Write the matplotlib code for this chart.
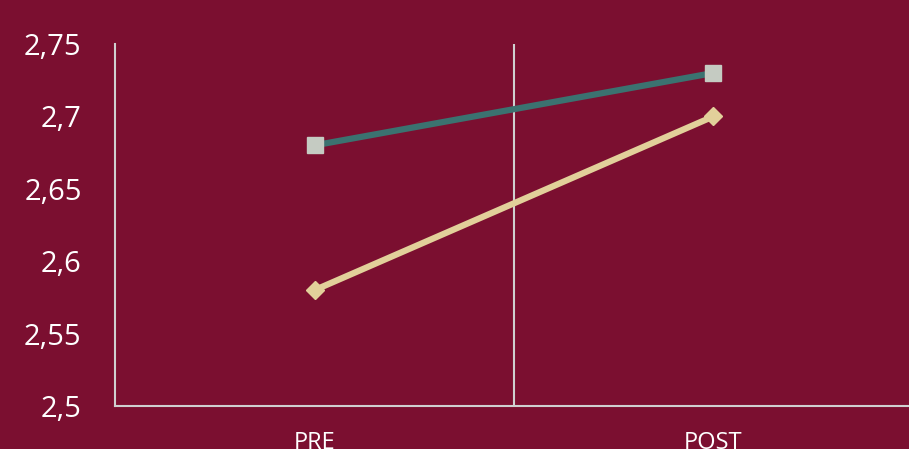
import matplotlib
matplotlib.use("Agg")
import matplotlib.pyplot as plt

categories = ["PRE", "POST"]
series_teal = [2.68, 2.73]
series_beige = [2.58, 2.70]
y_ticks = [2.5, 2.55, 2.6, 2.65, 2.7, 2.75]
y_labels = ["2,5", "2,55", "2,6", "2,65", "2,7", "2,75"]

bg = "#7B0F30"
plt.rcParams['font.family'] = ['Open Sans', 'DejaVu Sans']

fig = plt.figure(figsize=(9.09, 4.49), dpi=100, facecolor=bg)
ax = fig.add_axes([115/909, (449-406)/449, (913-115)/909, (406-44)/449])
ax.set_facecolor(bg)

x = [0.5, 1.5]
ax.plot(x, series_beige, color="#E2D09A", lw=4.5, marker="D", markersize=9,
        markerfacecolor="#E2D09A", markeredgecolor="#E2D09A", zorder=3)
ax.plot(x, series_teal, color="#3B7270", lw=4.5, marker="s", markersize=12,
        markerfacecolor="#C5CBC2", markeredgecolor="#C5CBC2", zorder=4)

ax.axvline(1.0, color="#D0D0D0", lw=1.5, zorder=1)
ax.set_xlim(0, 2)
ax.set_ylim(2.5, 2.75)
ax.set_yticks(y_ticks)
ax.set_yticklabels(y_labels)
ax.set_xticks(x)
ax.set_xticklabels(categories)
for s in ["top", "right"]:
    ax.spines[s].set_visible(False)
for s in ["left", "bottom"]:
    ax.spines[s].set_color("#D0D0D0")
    ax.spines[s].set_linewidth(1.5)
ax.tick_params(axis="y", length=0, pad=24, labelsize=21, labelcolor="white")
ax.tick_params(axis="x", length=0, pad=18, labelsize=17, labelcolor="white")
for lbl in ax.get_xticklabels():
    lbl.set_fontstretch("expanded")

fig.savefig("out.png", dpi=100, facecolor=bg)
